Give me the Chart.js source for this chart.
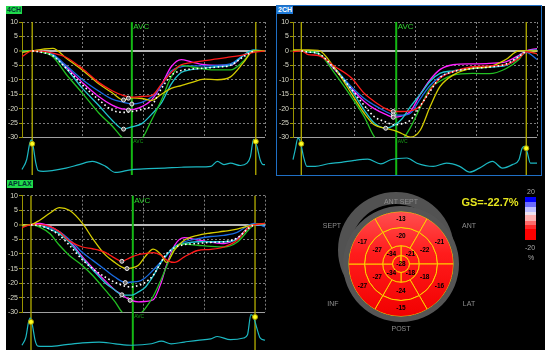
<!DOCTYPE html>
<html>
<head>
<meta charset="utf-8">
<script src="https://cdn.jsdelivr.net/npm/chart.js@4.4.0/dist/chart.umd.min.js"></script>
<style>
body{margin:0;background:#fff;width:550px;height:354px;overflow:hidden;position:relative;font-family:"Liberation Sans",Arial,sans-serif}
#bg{position:absolute;left:6px;top:6px;width:539px;height:344px;background:#000}
canvas{position:absolute}
.tag{position:absolute;font-size:7px;font-weight:bold;line-height:8px;height:8px;padding:0 1px;color:#033}
.lbl{position:absolute;color:#8e8e8e;font-size:7px;transform:translate(-50%,-50%);white-space:nowrap}
#frame2{position:absolute;left:276px;top:5px;width:264px;height:169px;border:1.5px solid #1f6fc5}
#bar{position:absolute;left:525px;top:197px;width:11px;height:43px;
 background:linear-gradient(to bottom,#0000ff 0%,#0000ff 12%,#6c6cff 12%,#6c6cff 23%,#c0c0ff 23%,#c0c0ff 34%,#eee2f0 34%,#eee2f0 43%,#ffb0b0 43%,#ffb0b0 55%,#ff6a6a 55%,#ff6a6a 66%,#ff2a2a 66%,#ff2a2a 75%,#ff0000 75%)}
</style>
</head>
<body>
<div id="bg"></div>
<canvas id="c4" width="264" height="170" style="left:6px;top:6px"></canvas>
<canvas id="c2" width="265" height="170" style="left:277px;top:6px"></canvas>
<canvas id="c3" width="264" height="169" style="left:6px;top:181px"></canvas>
<canvas id="ringBack" width="130" height="130" style="left:331px;top:185px"></canvas>
<canvas id="eye" width="130" height="130" style="left:336px;top:199px"></canvas>
<div id="frame2"></div>
<div class="tag" style="left:6px;top:6px;background:#1fd94a">4CH</div>
<div class="tag" style="left:277px;top:6px;background:#1e7ad8;color:#fff">2CH</div>
<div class="tag" style="left:7px;top:180px;background:#1fd94a">APLAX</div>

<div class="lbl" style="left:401px;top:201px">ANT SEPT</div>
<div class="lbl" style="left:332px;top:225px">SEPT</div>
<div class="lbl" style="left:469px;top:225px">ANT</div>
<div class="lbl" style="left:333px;top:303px">INF</div>
<div class="lbl" style="left:469px;top:303px">LAT</div>
<div class="lbl" style="left:401px;top:328px">POST</div>
<div class="lbl" style="left:490px;top:202px;color:#e6e61e;font-size:11px;font-weight:bold">GS=-22.7%</div>
<div id="bar"></div>
<div class="lbl" style="left:531px;top:191px;color:#aaa">20</div>
<div class="lbl" style="left:530px;top:247px;color:#aaa">-20</div>
<div class="lbl" style="left:531px;top:257px;color:#aaa">%</div>

<script>
// ---- 4CH ----
var t4 = [0,4.2,8.7,12.7,18.1,24.9,31.7,37.1,41.8,45.2,49.3,53.3,57.4,61.4,65.5,69.6,75,80.4,85.8,91.2,95.3,100];
var red4 = [-2,0,-0.2,-0.8,-2.2,-6.2,-11,-13.8,-15.5,-16,-15.8,-15.5,-11.5,-7.5,-4.8,-4.1,-3.4,-2.8,-2.1,-1.4,-0.5,0];
var yellow4 = [-0.5,0,0.6,0.9,-2.5,-6.7,-11.5,-14.5,-17,-16.3,-16.5,-17.2,-15,-13,-12,-11,-9.8,-10,-9,-4,0,0];
var green4 = [0,0,-0.5,-2,-8,-14.7,-21.6,-26,-30.5,-32,-30.5,-24,-17,-9,-5,-5.5,-6.3,-6.6,-6.6,-3.5,0,0];
var cyan4 = [0,0,-0.5,-1.5,-6,-13,-19,-24,-27.1,-26.3,-25.2,-22,-18,-11.5,-7.5,-6.5,-6,-5.5,-5,-1.5,0.3,0];
var blue4 = [0,0,-0.4,-1.2,-5,-10,-14,-16.7,-17.8,-18.4,-17.8,-16,-12,-7,-5.5,-5.2,-5.2,-5,-4.5,-1.5,0,0];
var magenta4 = [-0.3,0,-0.5,-1.5,-5.5,-11,-15.9,-18.8,-20.2,-20.3,-19.3,-17,-11.8,-5.5,-3,-3.8,-4.8,-5,-5,-1.5,0,0];
var avg4 = [null,0,-0.6,-1.7,-6,-11.8,-17,-20.5,-21.3,-21,-20.3,-19,-13,-8.5,-6.8,-6.3,-6,-5.6,-5,-2,0,null];
var ecgT4 = [0,1.9,3.2,3.9,4.6,5.7,6.6,8.7,18.1,23.5,28.9,34.4,38.4,45.2,52,58.7,65.5,72.3,77.7,80.4,83.1,85.8,89.9,92.6,94,95.3,96.7,98,99.3,100];
var ecg4 = [-41.1,-37.7,-32,-30.8,-33.1,-38.9,-41.4,-41.7,-40.6,-39.4,-38.3,-40,-42.1,-41.1,-40.8,-40.6,-40.3,-40.2,-40,-38.3,-39.4,-38.9,-39.7,-38.9,-36.6,-30.6,-33.1,-37.7,-39.4,-39.4];
var ed4 = [4.2,96.2], edY4 = [-32.2,-31.4], avc4 = 45.2;
var pkX4 = [41.8,43.8,41.8,43.8,45.2], pkY4 = [-27.1,-20.5,-17,-16.4,-18.4];

// ---- 2CH ----
var t2 = [0,3.4,6.3,10.4,17.1,23.9,29.2,33.3,38,41.4,44.7,48.1,52.2,56.2,60.2,65.6,73.7,80.5,87.2,92.6,95.6,100];
var red2 = [-0.3,0,-1.3,-1.6,-5.4,-9.3,-14.7,-17.5,-20,-21,-21,-20.8,-19,-13.6,-9.5,-7.2,-5.5,-5.2,-4.8,-2.5,-0.3,-1];
var yellow2 = [0.3,0.3,0.3,0.2,-6,-14.7,-21.6,-25.6,-26.8,-27.5,-28.7,-29.9,-27.4,-19.3,-12.4,-8.4,-6,-5.5,-3,0,0,0];
var green2 = [0,0,-0.2,-0.8,-7.8,-15.9,-22.8,-29.7,-33,-34,-31,-26.6,-19.5,-13,-10.5,-8.4,-7.8,-7.9,-6.2,-3,0,-1];
var cyan2 = [0,0,-0.3,-1,-6,-13.6,-20.5,-25,-26.8,-25.8,-23.5,-19.3,-15,-10.5,-7.8,-6.9,-6.1,-5.6,-5,-2,0,0.3];
var blue2 = [0,0,-0.3,-1,-6,-12.4,-16.5,-18.8,-21,-22.2,-22.3,-21.6,-16.5,-12,-9,-7.2,-6,-5.5,-5,-2.5,-0.5,-3];
var magenta2 = [0,0,-0.3,-1,-6.5,-13,-17.5,-20,-22,-23,-22.5,-21,-15,-10,-6.5,-4.8,-4.5,-4.3,-3.8,-1.5,0,0.8];
var avg2 = [null,0,-0.4,-0.9,-6.3,-13.2,-18.9,-22.8,-24.6,-25.6,-25.2,-24,-19,-14,-9.3,-7.2,-6.1,-5.6,-4.6,-1.9,0,null];
var ecgT2 = [0,0.9,2,3,4.3,5.7,9.1,14.4,19.8,25.2,30.6,36,40,46.7,50.8,57.5,62.9,68.3,72.4,76.4,81.8,85.8,89.9,92.6,93.9,95,95.9,97.3,100];
var ecg2 = [-37.7,-34.3,-30.2,-31.4,-36.6,-40,-40,-39.1,-38.6,-37.9,-37.5,-39.1,-37.7,-37.1,-38.9,-40,-38.9,-40,-42,-40.6,-38.3,-40.6,-39.4,-37.7,-33.7,-33.1,-34.8,-38.9,-38.9];
var ed2 = [3.4,95.6], edY2 = [-32.2,-33.7], avc2 = 42.3;
var pkX2 = [38,41.1,41.1,41.1], pkY2 = [-26.8,-21,-22.2,-23];

// ---- APLAX ----
var t3 = [0,3.7,7.3,11.4,15.4,19.5,24.9,29,34.4,38.4,41.1,43.2,45.2,47.9,50.6,54,57.4,59.4,62.8,66.8,72.3,77.7,83.1,88.5,93.5,95.5,100];
var yellow3 = [-0.1,0.1,1.6,4,5.9,5,0.5,-4.6,-10.4,-13,-14.5,-15,-14.8,-13.9,-11,-8.3,-10.4,-12.9,-8.6,-5.3,-3.6,-2.8,-2.2,-1.5,-0.3,0,0.5];
var red3 = [-1,0.1,0.1,-0.5,-2.4,-5.5,-7.6,-8.2,-9.5,-11.5,-12.5,-11.8,-11,-10.2,-9.9,-9.5,-10.5,-12,-12.9,-11,-8.8,-8.4,-7.6,-5.3,-0.7,0,0.5];
var green3 = [-0.5,0.1,-0.8,-3,-7,-10.5,-14,-17.3,-22.5,-26.5,-29.9,-31,-32,-31,-28.8,-24.5,-18.5,-14.5,-8.1,-6.6,-7,-7.4,-7.6,-6,-1.5,0,0.5];
var magenta3 = [-0.5,0.1,0.5,-0.5,-2.4,-5.5,-11,-14.7,-19.3,-22.5,-23.9,-25.2,-26,-26.4,-26.3,-25.7,-19.5,-14,-7,-4.4,-5.2,-5.9,-6.4,-4.7,-0.7,0,0];
var cyan3 = [-0.7,0.1,-0.1,-1.5,-3,-6,-11.5,-15.3,-20,-22.5,-24,-24.1,-24.1,-23,-21.5,-17.5,-12.7,-10.5,-7.5,-6.4,-5.8,-5.8,-5.8,-5,-0.5,0,0];
var blue3 = [-0.5,0.1,0,-1,-2.4,-5,-9.5,-12.1,-15.5,-18,-19.4,-19.8,-19.6,-19.4,-18.2,-15.5,-12.5,-10.5,-7.5,-5.8,-4.7,-4,-3.6,-2.6,0,0.5,-0.7];
var avg3 = [null,0,-0.3,-1.5,-3.6,-7,-12,-15,-18,-19.8,-20.7,-21.2,-21.3,-20.8,-19.8,-17.3,-12.5,-10,-7.8,-6.8,-6.4,-6,-5.8,-4.5,-1,0,null];
var ecgT3 = [0,1.6,2.7,3.4,4.3,5.4,6.6,11.4,18.1,24.9,31.7,38.4,45.2,53.3,57.4,61.4,66.8,72.3,77.7,80.4,85.8,91.2,92.8,94.2,95.3,96.7,98,100];
var ecg3 = [-41.3,-38.5,-33.3,-31.9,-34.5,-39.6,-41.6,-41.7,-41.1,-40.5,-40.2,-40.8,-41.3,-40.8,-39.9,-40.8,-40.2,-39.6,-39.1,-38.3,-39.4,-38.8,-37.7,-30.8,-31.6,-35.6,-38.8,-39.6];
var ed3 = [3.7,95.9], edY3 = [-33.3,-31.6], avc3 = 45.6;
var pkX3 = [41.1,43.2,42.5,41.1,44.5], pkY3 = [-12.5,-15,-19.8,-24,-25.9];

// ---- bull's eye (17 segments) ----
var segBasal = [-13,-21,-16,-15,-27,-17];   // ANT SEPT, ANT, LAT, POST, INF, SEPT
var segMid = [-20,-22,-18,-24,-27,-27];
var segApical = [-21,-18,-34,-34];
var segApex = [-28];

Chart.defaults.font.family = '"Liberation Sans", Arial, sans-serif';
Chart.defaults.font.size = 7;

function pts(xs, ys){
  return xs.map(function(x, i){ return {x: x, y: ys[i]}; });
}
function curve(t, vals, color){
  return {data: pts(t, vals), borderColor: color, borderWidth: 1.3, pointRadius: 0,
    cubicInterpolationMode: 'monotone', order: 5};
}
function vline(tx, color, w, ord){
  return {data: [{x: tx, y: 10}, {x: tx, y: -43}], borderColor: color, borderWidth: w,
    pointRadius: 0, clip: false, order: ord};
}
// AVC captions and the ED dots on the ECG (these sit below the chart area, so points would be skipped)
function overlay(o){
  return {id: 'overlay', afterDatasetsDraw: function(chart){
    var xs = chart.scales.x, ys = chart.scales.y, c = chart.ctx;
    var x = xs.getPixelForValue(o.avc);
    c.save();
    c.textAlign = 'left'; c.textBaseline = 'top';
    c.fillStyle = '#2fcf2f'; c.font = '8px "Liberation Sans", Arial';
    c.fillText('AVC', x + 1.5, ys.getPixelForValue(10) + 1);
    c.fillStyle = '#169a16'; c.font = '5px "Liberation Sans", Arial';
    c.fillText('AVC', x + 1.5, ys.getPixelForValue(-30) + 2);
    for (var i = 0; i < o.ed.length; i++){
      c.beginPath();
      c.arc(xs.getPixelForValue(o.ed[i]), ys.getPixelForValue(o.edY[i]), 2.5, 0, Math.PI * 2);
      c.fillStyle = '#ffff22'; c.fill();
      c.lineWidth = 1; c.strokeStyle = '#a89e00'; c.stroke();
    }
    c.restore();
  }};
}

function strainChart(id, o){
  var sets = [
    curve(o.t, o.red, '#ff1a1a'),
    curve(o.t, o.yellow, '#d4cc00'),
    curve(o.t, o.green, '#22c022'),
    curve(o.t, o.cyan, '#20c6cf'),
    curve(o.t, o.blue, '#1a6be0'),
    curve(o.t, o.magenta, '#ff22ff'),
    {data: pts(o.t, o.avg), borderColor: '#ffffff', borderWidth: 1.6, borderDash: [1.6, 2.6],
      pointRadius: 0, cubicInterpolationMode: 'monotone', order: 4},
    {data: pts(o.ecgT, o.ecg), borderColor: '#1cb8c2', borderWidth: 1.2, pointRadius: 0,
      cubicInterpolationMode: 'monotone', clip: false, order: 6},
    vline(o.ed[0], '#b4ae00', 1.3, 9),
    vline(o.ed[1], '#b4ae00', 1.3, 9),
    vline(o.avc, '#14b814', 2, 8),
    {data: pts(o.pkX, o.pkY), showLine: false, pointRadius: 2, pointBackgroundColor: '#666',
      pointBorderColor: '#e8e8e8', pointBorderWidth: 1, order: 1}
  ];
  return new Chart(document.getElementById(id), {
    type: 'line',
    data: {datasets: sets},
    options: {
      responsive: false, animation: false, events: [],
      layout: {padding: {top: o.padTop, bottom: o.padBottom, left: 0, right: o.padRight}},
      plugins: {legend: {display: false}, tooltip: {enabled: false}},
      scales: {
        x: {type: 'linear', min: 0, max: 100,
          afterFit: function(s){ s.height = 0; },
          ticks: {display: false, stepSize: 25},
          grid: {drawTicks: false, color: function(c){ return c.tick && c.tick.value === 0 ? 'rgba(0,0,0,0)' : '#7c7c7c'; }},
          border: {display: false, dash: [2, 2]}},
        y: {min: -30, max: 10,
          afterFit: function(s){ s.width = o.axisW; },
          ticks: {stepSize: 5, color: '#dcdccc', padding: 1},
          grid: {
            color: function(c){
              if (!c.tick) return '#7c7c7c';
              return c.tick.value === 0 ? '#b8b8b8' : (c.tick.value === -30 ? '#a0a0a0' : '#7c7c7c');
            },
            lineWidth: function(c){ return c.tick && c.tick.value === 0 ? 2 : 1; },
            tickLength: 3, tickColor: '#9a9400', tickWidth: 1},
          border: {color: '#9a9400', width: 1,
            dash: function(c){ return (c.tick && c.tick.value !== 0 && c.tick.value !== -30) ? [2, 2] : []; }}}
      }
    },
    plugins: [overlay(o)]
  });
}

strainChart('c4', {t: t4, red: red4, yellow: yellow4, green: green4, cyan: cyan4, blue: blue4, magenta: magenta4,
  avg: avg4, ecgT: ecgT4, ecg: ecg4, ed: ed4, edY: edY4, avc: avc4, pkX: pkX4, pkY: pkY4,
  axisW: 16, padTop: 16, padBottom: 38.5, padRight: 2});
strainChart('c2', {t: t2, red: red2, yellow: yellow2, green: green2, cyan: cyan2, blue: blue2, magenta: magenta2,
  avg: avg2, ecgT: ecgT2, ecg: ecg2, ed: ed2, edY: edY2, avc: avc2, pkX: pkX2, pkY: pkY2,
  axisW: 16, padTop: 16, padBottom: 38.5, padRight: 2});
strainChart('c3', {t: t3, red: red3, yellow: yellow3, green: green3, cyan: cyan3, blue: blue3, magenta: magenta3,
  avg: avg3, ecgT: ecgT3, ecg: ecg3, ed: ed3, edY: edY3, avc: avc3, pkX: pkX3, pkY: pkY3,
  axisW: 16, padTop: 14.7, padBottom: 37.7, padRight: 2});

// bull's eye
function ones(n){ var a = []; for (var i = 0; i < n; i++) a.push(1); return a; }
function redFill(ctx){
  var ca = ctx.chart.chartArea;
  if (!ca) return '#ff1414';
  var cy = (ca.top + ca.bottom) / 2;
  var g = ctx.chart.ctx.createLinearGradient(0, cy - 53, 0, cy + 53);
  g.addColorStop(0, '#ff5050');
  g.addColorStop(0.4, '#ff1c1c');
  g.addColorStop(1, '#f20000');
  return g;
}
var segLabels = {id: 'segLabels', afterDatasetsDraw: function(chart){
  var rings = [null, segBasal, segMid, segApical, segApex];
  var c = chart.ctx;
  c.save();
  c.fillStyle = '#000'; c.font = 'bold 6.5px "Liberation Sans", Arial';
  c.textAlign = 'center'; c.textBaseline = 'middle';
  for (var d = 1; d < rings.length; d++){
    chart.getDatasetMeta(d).data.forEach(function(arc, i){
      var p = rings[d].length === 1 ? {x: arc.x, y: arc.y} : arc.getCenterPoint();
      c.fillText(rings[d][i], p.x, p.y);
    });
  }
  c.restore();
}};
var ringStyle = {backgroundColor: redFill, borderColor: '#ffd000', borderWidth: 1};

new Chart(document.getElementById('ringBack'), {
  type: 'doughnut',
  data: {datasets: [{data: [1], backgroundColor: '#525252', borderWidth: 0}]},
  options: {responsive: false, animation: false, events: [], radius: 58, cutout: 51.5,
    plugins: {legend: {display: false}, tooltip: {enabled: false}}}
});

new Chart(document.getElementById('eye'), {
  type: 'doughnut',
  data: {datasets: [
    {data: [1], backgroundColor: '#555', borderWidth: 0, weight: 5.5},
    Object.assign({data: ones(segBasal.length), rotation: -30, weight: 16}, ringStyle),
    Object.assign({data: ones(segMid.length), rotation: -30, weight: 18.2}, ringStyle),
    Object.assign({data: ones(segApical.length), rotation: 0, weight: 9.8}, ringStyle),
    Object.assign({data: ones(segApex.length), rotation: 0, weight: 8.5}, ringStyle)
  ]},
  options: {responsive: false, animation: false, events: [], radius: 58, cutout: 0,
    plugins: {legend: {display: false}, tooltip: {enabled: false}}},
  plugins: [segLabels]
});
</script>
</body>
</html>
